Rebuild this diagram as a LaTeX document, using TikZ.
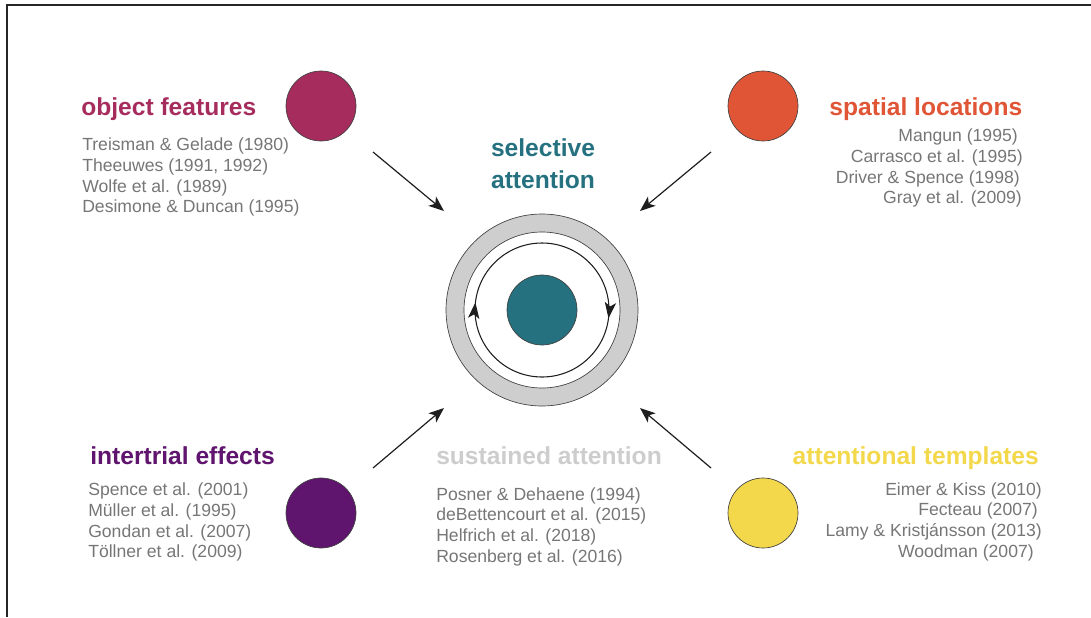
\documentclass[tikz,border=0pt]{standalone}
\usepackage{fontspec}
\setmainfont{Liberation Sans}
\usetikzlibrary{arrows.meta,decorations.markings}

\definecolor{objcol}{RGB}{166,44,94}
\definecolor{spacol}{RGB}{224,85,54}
\definecolor{intcol}{RGB}{95,20,110}
\definecolor{tplcol}{RGB}{242,216,74}
\definecolor{suscol}{RGB}{205,205,205}
\definecolor{selcol}{RGB}{37,113,128}
\definecolor{refcol}{RGB}{118,118,118}
\definecolor{ringcol}{RGB}{206,206,206}
\definecolor{linecol}{RGB}{30,30,30}

\begin{document}
\begin{tikzpicture}[x=0.75pt,y=-0.75pt,
  title/.style={inner sep=0pt,font=\fontsize{18.45}{20}\selectfont\bfseries},
  ref/.style={inner sep=0pt,text=refcol,font=\fontsize{13.2}{15.5}\selectfont},
  dot/.style={circle,draw=black!75,line width=0.5pt,minimum size=52.5pt,inner sep=0pt},
  feed/.style={draw=linecol,line width=0.9pt,
    -{Stealth[length=11.5pt,width=9pt,inset=3pt]}},
  cyc/.style={draw=linecol,line width=0.8pt}]
\useasboundingbox (0,0) rectangle (1091,617);

% frame lines along top and left
\draw[line width=1pt,black!85] (7,617) -- (7,5) -- (1091,5);

% central target: grey ring, cycling circle, teal core
\coordinate (cen) at (542,310);
\fill[ringcol,even odd rule] (cen) circle[radius=96] (cen) circle[radius=78];
\draw[black!75,line width=0.5pt] (cen) circle[radius=96];
\draw[black!75,line width=0.5pt] (cen) circle[radius=78];
\draw[cyc,postaction={decorate},decoration={markings,
    mark=at position 0.268 with {\arrow{Stealth[length=12pt,width=8.5pt,inset=3pt]}},
    mark=at position 0.77 with {\arrow{Stealth[length=12pt,width=8.5pt,inset=3pt]}}}]
  (cen) ++(90:67) arc[start angle=90,end angle=450,radius=67];
\node[dot,fill=selcol] (core) at (cen) {};

% selective attention label
\node[title,text=selcol,anchor=base] (sel1) at (543,156.7) {selective};
\node[title,text=selcol,anchor=base] (sel2) at (543,188.3) {attention};

% four attention factors
\node[dot,fill=objcol] (objdot) at (321,106) {};
\node[dot,fill=spacol] (spadot) at (763,106) {};
\node[dot,fill=intcol] (intdot) at (321,513) {};
\node[dot,fill=tplcol] (tpldot) at (763,513) {};

% object features
\node[title,text=objcol,anchor=base west] (objt) at (81,115) {object features};
\node[ref,anchor=base west] (obj1) at (82,150.7) {Treisman \& Gelade (1980)};
\node[ref,anchor=base west] (obj2) at (82,171.4) {Theeuwes (1991, 1992)};
\node[ref,anchor=base west] (obj3) at (82,192.1) {Wolfe et al. (1989)};
\node[ref,anchor=base west] (obj4) at (82,212.8) {Desimone \& Duncan (1995)};

% spatial locations
\node[title,text=spacol,anchor=base east] (spat) at (1022.5,115) {spatial locations};
\node[ref,anchor=base east] (spa1) at (1018,141.7) {Mangun (1995)};
\node[ref,anchor=base east] (spa2) at (1023,162.4) {Carrasco et al. (1995)};
\node[ref,anchor=base east] (spa3) at (1020,183.1) {Driver \& Spence (1998)};
\node[ref,anchor=base east] (spa4) at (1022,203.8) {Gray et al. (2009)};

% intertrial effects
\node[title,text=intcol,anchor=base west] (intt) at (90,464.3) {intertrial effects};
\node[ref,anchor=base west] (int1) at (88,495.7) {Spence et al. (2001)};
\node[ref,anchor=base west] (int2) at (88,516.4) {Müller et al. (1995)};
\node[ref,anchor=base west] (int3) at (88,537.1) {Gondan et al. (2007)};
\node[ref,anchor=base west] (int4) at (88,557.8) {Töllner et al. (2009)};

% sustained attention
\node[title,text=suscol,anchor=base west] (sust) at (436,464.3) {sustained attention};
\node[ref,anchor=base west] (sus1) at (436,500) {Posner \& Dehaene (1994)};
\node[ref,anchor=base west] (sus2) at (436,520.7) {deBettencourt et al. (2015)};
\node[ref,anchor=base west] (sus3) at (436,541.4) {Helfrich et al. (2018)};
\node[ref,anchor=base west] (sus4) at (436,562.1) {Rosenberg et al. (2016)};

% attentional templates
\node[title,text=tplcol,anchor=base east] (tplt) at (1039,464.3) {attentional templates};
\node[ref,anchor=base east] (tpl1) at (1042,495) {Eimer \& Kiss (2010)};
\node[ref,anchor=base east] (tpl2) at (1038,515.7) {Fecteau (2007)};
\node[ref,anchor=base east] (tpl3) at (1042,536.4) {Lamy \& Kristjánsson (2013)};
\node[ref,anchor=base east] (tpl4) at (1034,557.1) {Woodman (2007)};

% converging arrows
\coordinate (tlA) at (373,152);  \coordinate (tlB) at (444,211);
\coordinate (trA) at (711,152);  \coordinate (trB) at (640,211);
\coordinate (blA) at (373,468);  \coordinate (blB) at (444,408);
\coordinate (brA) at (711,468);  \coordinate (brB) at (640,408);
\draw[feed] (tlA) -- (tlB);
\draw[feed] (trA) -- (trB);
\draw[feed] (blA) -- (blB);
\draw[feed] (brA) -- (brB);
\end{tikzpicture}
\end{document}
